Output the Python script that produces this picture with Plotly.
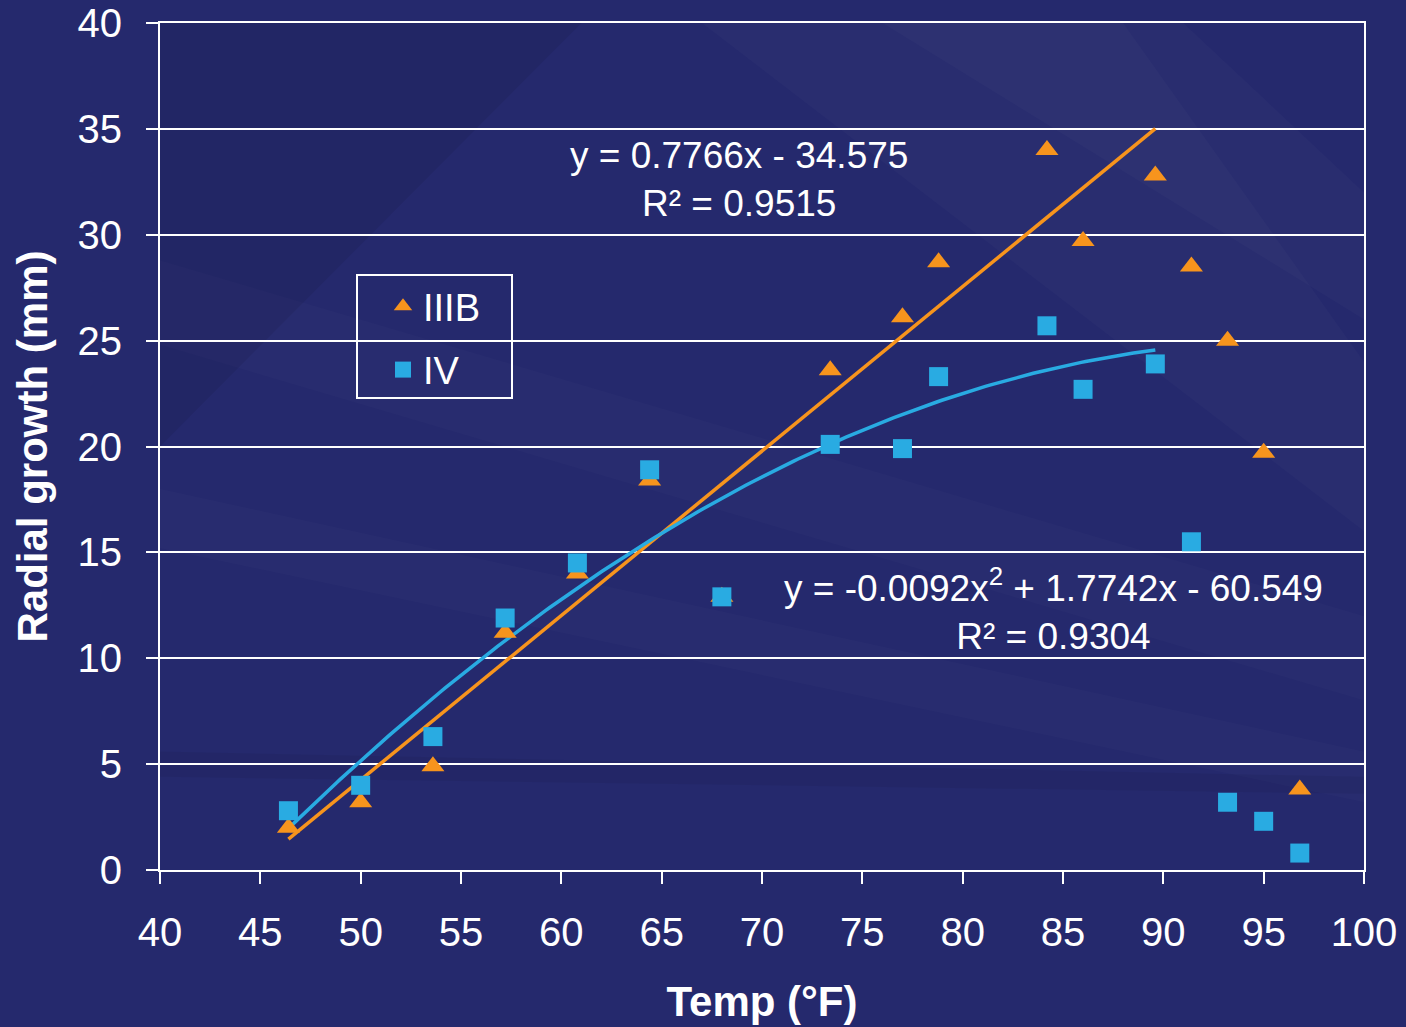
import numpy as np
import plotly.graph_objects as go

temps = [46.4, 50.0, 53.6, 57.2, 60.8, 64.4, 68.0, 73.4, 77.0, 78.8, 84.2, 86.0, 89.6, 91.4, 93.2, 95.0, 96.8]
iiib = [2.0, 3.2, 4.9, 11.2, 14.0, 18.4, 12.9, 23.6, 26.1, 28.7, 34.0, 29.7, 32.8, 28.5, 25.0, 19.7, 3.8]
iv = [2.8, 4.0, 6.3, 11.9, 14.5, 18.9, 12.9, 20.1, 19.9, 23.3, 25.7, 22.7, 23.9, 15.5, 3.2, 2.3, 0.8]
lin_coef = [0.7766, -34.575]
quad_coef = [-0.0092, 1.7742, -60.549]
fit_range = [46.4, 89.6]

ORANGE = "#F7941D"
BLUE = "#29ABE2"
FONT = "Liberation Sans, Arial, sans-serif"

xs = np.linspace(fit_range[0], fit_range[1], 200)
y_lin = np.polyval(lin_coef, xs)
y_quad = np.polyval(quad_coef, xs)

fig = go.Figure()
fig.add_trace(go.Scatter(x=xs, y=y_lin, mode="lines", line=dict(color=ORANGE, width=3.5),
                         showlegend=False, hoverinfo="skip"))
fig.add_trace(go.Scatter(x=xs, y=y_quad, mode="lines", line=dict(color=BLUE, width=3.5),
                         showlegend=False, hoverinfo="skip"))
fig.add_trace(go.Scatter(x=temps, y=iiib, mode="markers", name="IIIB", legendgroup="a",
                         marker=dict(symbol="triangle-up", size=20, color=ORANGE, line=dict(width=0))))
fig.add_trace(go.Scatter(x=temps, y=iv, mode="markers", name="IV", legendgroup="b",
                         marker=dict(symbol="square", size=19, color=BLUE, line=dict(width=0))))

# background streaks (subtle)
shapes = []
streaks = [
    ("M 0.45 1.0 L 0.8 1.0 L 1.0 0.6 L 1.0 0.4 Z", "rgba(255,255,255,0.018)"),
    ("M 0.6 1.0 L 0.85 1.0 L 1.0 0.8 L 1.0 0.65 Z", "rgba(255,255,255,0.02)"),
    ("M 0.0 0.72 L 0.0 0.62 L 1.0 0.2 L 1.0 0.3 Z", "rgba(255,255,255,0.015)"),
    ("M 0.0 0.45 L 0.0 0.38 L 1.0 0.08 L 1.0 0.14 Z", "rgba(255,255,255,0.015)"),
    ("M 0.0 0.14 L 0.0 0.11 L 1.0 0.09 L 1.0 0.11 Z", "rgba(0,0,0,0.05)"),
    ("M 0.0 1.0 L 0.35 1.0 L 0.0 0.5 Z", "rgba(0,0,0,0.07)"),
]
for path, col in streaks:
    shapes.append(dict(type="path", path=path, xref="paper", yref="paper", fillcolor=col,
                       line=dict(width=0), layer="below"))


def px_to_dom(px, py):
    return (px - 160) / 1204, (870 - py) / 847


# legend frame
lx0, ly0 = px_to_dom(357, 398)
lx1, ly1 = px_to_dom(512, 275)
shapes.append(dict(type="rect", xref="x domain", yref="y domain", x0=lx0, x1=lx1, y0=ly0, y1=ly1,
                   line=dict(color="white", width=2), fillcolor="rgba(0,0,0,0)", layer="above"))

ann = []
for cx, cy, txt in [(739, 179, "y = 0.7766x - 34.575<br>R² = 0.9515"),
                    (1053, 609, "y = -0.0092x<sup>2</sup> + 1.7742x - 60.549<br>R² = 0.9304")]:
    dx, dy = px_to_dom(cx, cy)
    ann.append(dict(x=dx, y=dy, xref="x domain", yref="y domain", text=txt, showarrow=False,
                    align="center", xanchor="center", yanchor="middle",
                    font=dict(size=37, family=FONT, color="white")))

leg_x, leg_y = px_to_dom(383, 275)

fig.update_layout(
    width=1406, height=1027,
    margin=dict(l=160, r=42, t=23, b=157, autoexpand=False),
    paper_bgcolor="#25296d",
    plot_bgcolor="rgba(0,0,0,0)",
    font=dict(family=FONT, color="white"),
    shapes=shapes,
    annotations=ann,
    showlegend=True,
    legend=dict(x=leg_x, y=leg_y, xanchor="left", yanchor="top",
                bgcolor="rgba(0,0,0,0)", borderwidth=0,
                font=dict(size=38, color="white", family=FONT),
                tracegroupgap=11),
    xaxis=dict(range=[40, 100], dtick=5, tick0=40, showgrid=False, zeroline=False,
               showline=True, linecolor="white", linewidth=2, mirror=True,
               ticks="outside", ticklen=12, tickwidth=2, tickcolor="white",
               ticklabelstandoff=14, automargin=False,
               tickfont=dict(size=40, family=FONT, color="white"),
               title=dict(text="<b>Temp (°F)</b>", font=dict(size=42, family=FONT, color="white"),
                          standoff=34)),
    yaxis=dict(range=[0, 40], dtick=5, showgrid=True, gridcolor="white", gridwidth=2,
               zeroline=False, showline=True, linecolor="white", linewidth=2, mirror=True,
               ticks="outside", ticklen=12, tickwidth=2, tickcolor="white",
               ticklabelstandoff=16, automargin=False,
               tickfont=dict(size=40, family=FONT, color="white"),
               title=dict(text="<b>Radial growth (mm)</b>", font=dict(size=42, family=FONT, color="white"),
                          standoff=17)),
)

fig.write_html("out.html", config={"displayModeBar": False},
               post_script="document.body.style.margin='0';document.body.style.background='#25296d';")
